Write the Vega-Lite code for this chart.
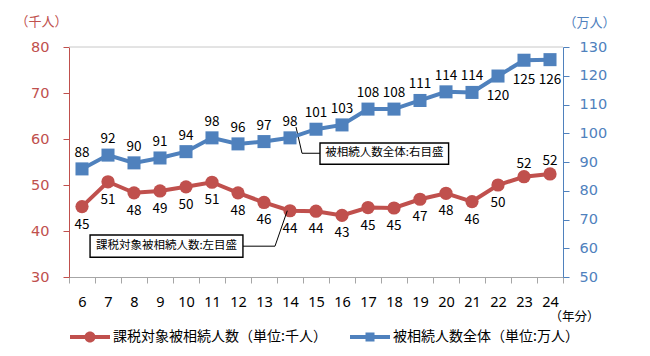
{
  "$schema": "https://vega.github.io/schema/vega-lite/v6.json",
  "width": 494,
  "height": 230,
  "autosize": {"type": "none"},
  "padding": {"left": 69, "top": 47, "right": 87, "bottom": 79},
  "background": "white",
  "config": {
    "font": "Noto Sans CJK JP",
    "view": {"stroke": null},
    "axis": {"grid": false, "labelOverlap": false, "labelFlush": false, "labelBound": false, "tickSize": 6, "titleAngle": 0, "titleAlign": "center", "titleBaseline": "middle", "titleFontSize": 13, "titleFontWeight": "normal"},
    "axisX": {"labelOffset": 13, "tickColor": "#A6A6A6", "domainColor": "#A6A6A6", "labelFont": "Noto Sans", "labelFontSize": 14.5, "labelColor": "black", "labelPadding": 12, "titleX": 505, "titleY": 39.5, "titleFontSize": 12.5, "titleColor": "black"},
    "axisLeft": {"tickColor": "#C0504D", "domainColor": "#C0504D", "labelColor": "#C0504D", "labelFont": "DejaVu Sans", "labelFontSize": 14.5, "labelPadding": 14, "titleColor": "#C0504D", "titleX": -28, "titleY": -26},
    "axisRight": {"tickColor": "#4F81BD", "domainColor": "#4F81BD", "labelColor": "#4F81BD", "labelFont": "DejaVu Sans", "labelFontSize": 14.5, "labelPadding": 10, "titleColor": "#4F81BD", "titleX": 26, "titleY": -25}
  },
  "datasets": {
    "main": [
      {"year": 6, "series": "課税対象被相続人数（単位:千人）", "value": 45.3},
      {"year": 7, "series": "課税対象被相続人数（単位:千人）", "value": 50.7},
      {"year": 8, "series": "課税対象被相続人数（単位:千人）", "value": 48.3},
      {"year": 9, "series": "課税対象被相続人数（単位:千人）", "value": 48.7},
      {"year": 10, "series": "課税対象被相続人数（単位:千人）", "value": 49.6},
      {"year": 11, "series": "課税対象被相続人数（単位:千人）", "value": 50.6},
      {"year": 12, "series": "課税対象被相続人数（単位:千人）", "value": 48.3},
      {"year": 13, "series": "課税対象被相続人数（単位:千人）", "value": 46.2},
      {"year": 14, "series": "課税対象被相続人数（単位:千人）", "value": 44.4},
      {"year": 15, "series": "課税対象被相続人数（単位:千人）", "value": 44.3},
      {"year": 16, "series": "課税対象被相続人数（単位:千人）", "value": 43.4},
      {"year": 17, "series": "課税対象被相続人数（単位:千人）", "value": 45.1},
      {"year": 18, "series": "課税対象被相続人数（単位:千人）", "value": 45.0},
      {"year": 19, "series": "課税対象被相続人数（単位:千人）", "value": 46.9},
      {"year": 20, "series": "課税対象被相続人数（単位:千人）", "value": 48.2},
      {"year": 21, "series": "課税対象被相続人数（単位:千人）", "value": 46.4},
      {"year": 22, "series": "課税対象被相続人数（単位:千人）", "value": 50.0},
      {"year": 23, "series": "課税対象被相続人数（単位:千人）", "value": 51.8},
      {"year": 24, "series": "課税対象被相続人数（単位:千人）", "value": 52.4},
      {"year": 6, "series": "被相続人数全体（単位:万人）", "value": 87.6},
      {"year": 7, "series": "被相続人数全体（単位:万人）", "value": 92.4},
      {"year": 8, "series": "被相続人数全体（単位:万人）", "value": 89.7},
      {"year": 9, "series": "被相続人数全体（単位:万人）", "value": 91.4},
      {"year": 10, "series": "被相続人数全体（単位:万人）", "value": 93.6},
      {"year": 11, "series": "被相続人数全体（単位:万人）", "value": 98.4},
      {"year": 12, "series": "被相続人数全体（単位:万人）", "value": 96.3},
      {"year": 13, "series": "被相続人数全体（単位:万人）", "value": 97.1},
      {"year": 14, "series": "被相続人数全体（単位:万人）", "value": 98.4},
      {"year": 15, "series": "被相続人数全体（単位:万人）", "value": 101.4},
      {"year": 16, "series": "被相続人数全体（単位:万人）", "value": 102.9},
      {"year": 17, "series": "被相続人数全体（単位:万人）", "value": 108.4},
      {"year": 18, "series": "被相続人数全体（単位:万人）", "value": 108.4},
      {"year": 19, "series": "被相続人数全体（単位:万人）", "value": 111.4},
      {"year": 20, "series": "被相続人数全体（単位:万人）", "value": 114.4},
      {"year": 21, "series": "被相続人数全体（単位:万人）", "value": 114.2},
      {"year": 22, "series": "被相続人数全体（単位:万人）", "value": 119.9},
      {"year": 23, "series": "被相続人数全体（単位:万人）", "value": 125.4},
      {"year": 24, "series": "被相続人数全体（単位:万人）", "value": 125.6}
    ]
  },
  "data": {"name": "main"},
  "layer": [
    {
      "layer": [
        {
          "transform": [{"filter": "datum.series === '課税対象被相続人数（単位:千人）'"}],
          "mark": {"type": "line", "color": "#C0504D", "strokeWidth": 4},
          "encoding": {
            "x": {"field": "year", "type": "quantitative", "scale": {"domain": [5.5, 24.5], "nice": false, "zero": false},
              "axis": {"values": [5.5, 6.5, 7.5, 8.5, 9.5, 10.5, 11.5, 12.5, 13.5, 14.5, 15.5, 16.5, 17.5, 18.5, 19.5, 20.5, 21.5, 22.5, 23.5, 24.5], "labelExpr": "datum.value < 24 ? toString(datum.value + 0.5) : ''", "title": "（年分）"}},
            "y": {"field": "value", "type": "quantitative", "scale": {"domain": [30, 80], "nice": false, "zero": false},
              "axis": {"orient": "left", "values": [30, 40, 50, 60, 70, 80], "title": "（千人）"}}
          }
        },
        {
          "data": {"values": [{}]},
          "mark": {"type": "rule", "color": "#C8C8C8", "strokeWidth": 1},
          "encoding": {
            "y": {"datum": 80, "type": "quantitative", "scale": {"domain": [30, 80], "nice": false, "zero": false},
              "axis": {"orient": "left", "values": [30, 40, 50, 60, 70, 80], "title": "（千人）"}}
          }
        },
        {
          "transform": [{"filter": "datum.series === '課税対象被相続人数（単位:千人）'"}],
          "mark": {"type": "point", "shape": "circle", "filled": true, "size": 175, "color": "#C0504D", "opacity": 1},
          "encoding": {
            "x": {"field": "year", "type": "quantitative", "scale": {"domain": [5.5, 24.5], "nice": false, "zero": false},
              "axis": {"values": [5.5, 6.5, 7.5, 8.5, 9.5, 10.5, 11.5, 12.5, 13.5, 14.5, 15.5, 16.5, 17.5, 18.5, 19.5, 20.5, 21.5, 22.5, 23.5, 24.5], "labelExpr": "datum.value < 24 ? toString(datum.value + 0.5) : ''", "title": "（年分）"}},
            "y": {"field": "value", "type": "quantitative", "scale": {"domain": [30, 80], "nice": false, "zero": false},
              "axis": {"orient": "left", "values": [30, 40, 50, 60, 70, 80], "title": "（千人）"}}
          }
        },
        {
          "transform": [{"filter": "datum.series === '課税対象被相続人数（単位:千人）' && datum.year < 23"}],
          "mark": {"type": "text", "dy": 18, "fontSize": 13.5, "color": "black", "baseline": "middle", "align": "center"},
          "encoding": {
            "x": {"field": "year", "type": "quantitative", "scale": {"domain": [5.5, 24.5], "nice": false, "zero": false},
              "axis": {"values": [5.5, 6.5, 7.5, 8.5, 9.5, 10.5, 11.5, 12.5, 13.5, 14.5, 15.5, 16.5, 17.5, 18.5, 19.5, 20.5, 21.5, 22.5, 23.5, 24.5], "labelExpr": "datum.value < 24 ? toString(datum.value + 0.5) : ''", "title": "（年分）"}},
            "y": {"field": "value", "type": "quantitative", "scale": {"domain": [30, 80], "nice": false, "zero": false},
              "axis": {"orient": "left", "values": [30, 40, 50, 60, 70, 80], "title": "（千人）"}},
            "text": {"field": "value", "type": "quantitative", "format": ".0f"}
          }
        },
        {
          "transform": [{"filter": "datum.series === '課税対象被相続人数（単位:千人）' && datum.year >= 23"}],
          "mark": {"type": "text", "dy": -13, "fontSize": 13.5, "color": "black", "baseline": "middle", "align": "center"},
          "encoding": {
            "x": {"field": "year", "type": "quantitative", "scale": {"domain": [5.5, 24.5], "nice": false, "zero": false},
              "axis": {"values": [5.5, 6.5, 7.5, 8.5, 9.5, 10.5, 11.5, 12.5, 13.5, 14.5, 15.5, 16.5, 17.5, 18.5, 19.5, 20.5, 21.5, 22.5, 23.5, 24.5], "labelExpr": "datum.value < 24 ? toString(datum.value + 0.5) : ''", "title": "（年分）"}},
            "y": {"field": "value", "type": "quantitative", "scale": {"domain": [30, 80], "nice": false, "zero": false},
              "axis": {"orient": "left", "values": [30, 40, 50, 60, 70, 80], "title": "（千人）"}},
            "text": {"field": "value", "type": "quantitative", "format": ".0f"}
          }
        },
        {
          "mark": {"type": "point", "filled": true, "opacity": 0},
          "encoding": {
            "color": {
              "field": "series", "type": "nominal",
              "scale": {"domain": ["課税対象被相続人数（単位:千人）", "被相続人数全体（単位:万人）"], "range": ["#C0504D", "#4F81BD"]},
              "legend": {
                "orient": "none", "legendX": 1, "legendY": 270, "direction": "horizontal",
                "title": null, "symbolSize": 1600, "symbolStrokeWidth": 0, "symbolOpacity": 1,
                "labelFontSize": 14, "labelFont": "Noto Sans CJK JP", "labelColor": "black",
                "labelOffset": 3, "columnPadding": 23, "labelLimit": 400, "padding": 0
              }
            },
            "shape": {
              "field": "series", "type": "nominal",
              "scale": {
                "domain": ["課税対象被相続人数（単位:千人）", "被相続人数全体（単位:万人）"],
                "range": [
                  "M-1,-0.1H1V0.1H-1Z M0.275,0A0.275,0.275 0 1,1 -0.275,0A0.275,0.275 0 1,1 0.275,0Z",
                  "M-1,-0.1H1V0.1H-1Z M-0.225,-0.225H0.225V0.225H-0.225Z"
                ]
              },
              "legend": {
                "orient": "none", "legendX": 1, "legendY": 270, "direction": "horizontal",
                "title": null, "symbolSize": 1600, "symbolStrokeWidth": 0, "symbolOpacity": 1,
                "labelFontSize": 14, "labelFont": "Noto Sans CJK JP", "labelColor": "black",
                "labelOffset": 3, "columnPadding": 23, "labelLimit": 400, "padding": 0
              }
            }
          }
        },
        {
          "data": {"values": [{}]},
          "mark": {"type": "rule", "color": "black", "strokeWidth": 1},
          "encoding": {
            "x": {"datum": 13.896, "type": "quantitative", "scale": {"domain": [5.5, 24.5], "nice": false, "zero": false},
              "axis": {"values": [5.5, 6.5, 7.5, 8.5, 9.5, 10.5, 11.5, 12.5, 13.5, 14.5, 15.5, 16.5, 17.5, 18.5, 19.5, 20.5, 21.5, 22.5, 23.5, 24.5], "labelExpr": "datum.value < 24 ? toString(datum.value + 0.5) : ''", "title": "（年分）"}},
            "x2": {"datum": 13.423},
            "y": {"datum": 44.41, "type": "quantitative", "scale": {"domain": [30, 80], "nice": false, "zero": false},
              "axis": {"orient": "left", "values": [30, 40, 50, 60, 70, 80], "title": "（千人）"}},
            "y2": {"datum": 36.7}
          }
        },
        {
          "data": {"values": [{}]},
          "mark": {"type": "rule", "color": "black", "strokeWidth": 1},
          "encoding": {
            "x": {"datum": 13.423, "type": "quantitative", "scale": {"domain": [5.5, 24.5], "nice": false, "zero": false},
              "axis": {"values": [5.5, 6.5, 7.5, 8.5, 9.5, 10.5, 11.5, 12.5, 13.5, 14.5, 15.5, 16.5, 17.5, 18.5, 19.5, 20.5, 21.5, 22.5, 23.5, 24.5], "labelExpr": "datum.value < 24 ? toString(datum.value + 0.5) : ''", "title": "（年分）"}},
            "x2": {"datum": 12.19},
            "y": {"datum": 36.7, "type": "quantitative", "scale": {"domain": [30, 80], "nice": false, "zero": false},
              "axis": {"orient": "left", "values": [30, 40, 50, 60, 70, 80], "title": "（千人）"}},
            "y2": {"datum": 36.7}
          }
        },
        {
          "data": {"values": [{}]},
          "mark": {"type": "rule", "color": "black", "strokeWidth": 1},
          "encoding": {
            "x": {"datum": 14.231, "type": "quantitative", "scale": {"domain": [5.5, 24.5], "nice": false, "zero": false},
              "axis": {"values": [5.5, 6.5, 7.5, 8.5, 9.5, 10.5, 11.5, 12.5, 13.5, 14.5, 15.5, 16.5, 17.5, 18.5, 19.5, 20.5, 21.5, 22.5, 23.5, 24.5], "labelExpr": "datum.value < 24 ? toString(datum.value + 0.5) : ''", "title": "（年分）"}},
            "x2": {"datum": 14.462},
            "y": {"datum": 62.6, "type": "quantitative", "scale": {"domain": [30, 80], "nice": false, "zero": false},
              "axis": {"orient": "left", "values": [30, 40, 50, 60, 70, 80], "title": "（千人）"}},
            "y2": {"datum": 56.9}
          }
        },
        {
          "data": {"values": [{}]},
          "mark": {"type": "rule", "color": "black", "strokeWidth": 1},
          "encoding": {
            "x": {"datum": 14.462, "type": "quantitative", "scale": {"domain": [5.5, 24.5], "nice": false, "zero": false},
              "axis": {"values": [5.5, 6.5, 7.5, 8.5, 9.5, 10.5, 11.5, 12.5, 13.5, 14.5, 15.5, 16.5, 17.5, 18.5, 19.5, 20.5, 21.5, 22.5, 23.5, 24.5], "labelExpr": "datum.value < 24 ? toString(datum.value + 0.5) : ''", "title": "（年分）"}},
            "x2": {"datum": 15.154},
            "y": {"datum": 56.9, "type": "quantitative", "scale": {"domain": [30, 80], "nice": false, "zero": false},
              "axis": {"orient": "left", "values": [30, 40, 50, 60, 70, 80], "title": "（千人）"}},
            "y2": {"datum": 56.9}
          }
        },
        {
          "data": {"values": [{}]},
          "mark": {"type": "rect", "fill": "white", "stroke": "black", "strokeWidth": 1.4},
          "encoding": {
            "x": {"datum": 6.31, "type": "quantitative", "scale": {"domain": [5.5, 24.5], "nice": false, "zero": false},
              "axis": {"values": [5.5, 6.5, 7.5, 8.5, 9.5, 10.5, 11.5, 12.5, 13.5, 14.5, 15.5, 16.5, 17.5, 18.5, 19.5, 20.5, 21.5, 22.5, 23.5, 24.5], "labelExpr": "datum.value < 24 ? toString(datum.value + 0.5) : ''", "title": "（年分）"}},
            "x2": {"datum": 12.19},
            "y": {"datum": 39.13, "type": "quantitative", "scale": {"domain": [30, 80], "nice": false, "zero": false},
              "axis": {"orient": "left", "values": [30, 40, 50, 60, 70, 80], "title": "（千人）"}},
            "y2": {"datum": 34.28}
          }
        },
        {
          "data": {"values": [{}]},
          "mark": {"type": "text", "fontSize": 11.5, "color": "black", "align": "center", "baseline": "middle"},
          "encoding": {
            "x": {"datum": 9.25, "type": "quantitative", "scale": {"domain": [5.5, 24.5], "nice": false, "zero": false},
              "axis": {"values": [5.5, 6.5, 7.5, 8.5, 9.5, 10.5, 11.5, 12.5, 13.5, 14.5, 15.5, 16.5, 17.5, 18.5, 19.5, 20.5, 21.5, 22.5, 23.5, 24.5], "labelExpr": "datum.value < 24 ? toString(datum.value + 0.5) : ''", "title": "（年分）"}},
            "y": {"datum": 36.7, "type": "quantitative", "scale": {"domain": [30, 80], "nice": false, "zero": false},
              "axis": {"orient": "left", "values": [30, 40, 50, 60, 70, 80], "title": "（千人）"}},
            "text": {"value": "課税対象被相続人数:左目盛"}
          }
        },
        {
          "data": {"values": [{}]},
          "mark": {"type": "rect", "fill": "white", "stroke": "black", "strokeWidth": 1.4},
          "encoding": {
            "x": {"datum": 15.154, "type": "quantitative", "scale": {"domain": [5.5, 24.5], "nice": false, "zero": false},
              "axis": {"values": [5.5, 6.5, 7.5, 8.5, 9.5, 10.5, 11.5, 12.5, 13.5, 14.5, 15.5, 16.5, 17.5, 18.5, 19.5, 20.5, 21.5, 22.5, 23.5, 24.5], "labelExpr": "datum.value < 24 ? toString(datum.value + 0.5) : ''", "title": "（年分）"}},
            "x2": {"datum": 20.1},
            "y": {"datum": 59.13, "type": "quantitative", "scale": {"domain": [30, 80], "nice": false, "zero": false},
              "axis": {"orient": "left", "values": [30, 40, 50, 60, 70, 80], "title": "（千人）"}},
            "y2": {"datum": 54.5}
          }
        },
        {
          "data": {"values": [{}]},
          "mark": {"type": "text", "fontSize": 11.5, "color": "black", "align": "center", "baseline": "middle"},
          "encoding": {
            "x": {"datum": 17.63, "type": "quantitative", "scale": {"domain": [5.5, 24.5], "nice": false, "zero": false},
              "axis": {"values": [5.5, 6.5, 7.5, 8.5, 9.5, 10.5, 11.5, 12.5, 13.5, 14.5, 15.5, 16.5, 17.5, 18.5, 19.5, 20.5, 21.5, 22.5, 23.5, 24.5], "labelExpr": "datum.value < 24 ? toString(datum.value + 0.5) : ''", "title": "（年分）"}},
            "y": {"datum": 56.85, "type": "quantitative", "scale": {"domain": [30, 80], "nice": false, "zero": false},
              "axis": {"orient": "left", "values": [30, 40, 50, 60, 70, 80], "title": "（千人）"}},
            "text": {"value": "被相続人数全体:右目盛"}
          }
        }
      ]
    },
    {
      "layer": [
        {
          "transform": [{"filter": "datum.series === '被相続人数全体（単位:万人）'"}],
          "mark": {"type": "line", "color": "#4F81BD", "strokeWidth": 4},
          "encoding": {
            "x": {"field": "year", "type": "quantitative", "scale": {"domain": [5.5, 24.5], "nice": false, "zero": false},
              "axis": {"values": [5.5, 6.5, 7.5, 8.5, 9.5, 10.5, 11.5, 12.5, 13.5, 14.5, 15.5, 16.5, 17.5, 18.5, 19.5, 20.5, 21.5, 22.5, 23.5, 24.5], "labelExpr": "datum.value < 24 ? toString(datum.value + 0.5) : ''", "title": "（年分）"}},
            "y": {"field": "value", "type": "quantitative", "scale": {"domain": [50, 130], "nice": false, "zero": false},
              "axis": {"orient": "right", "values": [50, 60, 70, 80, 90, 100, 110, 120, 130], "title": "（万人）"}}
          }
        },
        {
          "transform": [{"filter": "datum.series === '被相続人数全体（単位:万人）'"}],
          "mark": {"type": "point", "shape": "square", "filled": true, "size": 170, "color": "#4F81BD", "opacity": 1},
          "encoding": {
            "x": {"field": "year", "type": "quantitative", "scale": {"domain": [5.5, 24.5], "nice": false, "zero": false},
              "axis": {"values": [5.5, 6.5, 7.5, 8.5, 9.5, 10.5, 11.5, 12.5, 13.5, 14.5, 15.5, 16.5, 17.5, 18.5, 19.5, 20.5, 21.5, 22.5, 23.5, 24.5], "labelExpr": "datum.value < 24 ? toString(datum.value + 0.5) : ''", "title": "（年分）"}},
            "y": {"field": "value", "type": "quantitative", "scale": {"domain": [50, 130], "nice": false, "zero": false},
              "axis": {"orient": "right", "values": [50, 60, 70, 80, 90, 100, 110, 120, 130], "title": "（万人）"}}
          }
        },
        {
          "transform": [{"filter": "datum.series === '被相続人数全体（単位:万人）' && datum.year < 22"}],
          "mark": {"type": "text", "dy": -16, "fontSize": 13.5, "color": "black", "baseline": "middle", "align": "center"},
          "encoding": {
            "x": {"field": "year", "type": "quantitative", "scale": {"domain": [5.5, 24.5], "nice": false, "zero": false},
              "axis": {"values": [5.5, 6.5, 7.5, 8.5, 9.5, 10.5, 11.5, 12.5, 13.5, 14.5, 15.5, 16.5, 17.5, 18.5, 19.5, 20.5, 21.5, 22.5, 23.5, 24.5], "labelExpr": "datum.value < 24 ? toString(datum.value + 0.5) : ''", "title": "（年分）"}},
            "y": {"field": "value", "type": "quantitative", "scale": {"domain": [50, 130], "nice": false, "zero": false},
              "axis": {"orient": "right", "values": [50, 60, 70, 80, 90, 100, 110, 120, 130], "title": "（万人）"}},
            "text": {"field": "value", "type": "quantitative", "format": ".0f"}
          }
        },
        {
          "transform": [{"filter": "datum.series === '被相続人数全体（単位:万人）' && datum.year >= 22"}],
          "mark": {"type": "text", "dy": 20, "fontSize": 13.5, "color": "black", "baseline": "middle", "align": "center"},
          "encoding": {
            "x": {"field": "year", "type": "quantitative", "scale": {"domain": [5.5, 24.5], "nice": false, "zero": false},
              "axis": {"values": [5.5, 6.5, 7.5, 8.5, 9.5, 10.5, 11.5, 12.5, 13.5, 14.5, 15.5, 16.5, 17.5, 18.5, 19.5, 20.5, 21.5, 22.5, 23.5, 24.5], "labelExpr": "datum.value < 24 ? toString(datum.value + 0.5) : ''", "title": "（年分）"}},
            "y": {"field": "value", "type": "quantitative", "scale": {"domain": [50, 130], "nice": false, "zero": false},
              "axis": {"orient": "right", "values": [50, 60, 70, 80, 90, 100, 110, 120, 130], "title": "（万人）"}},
            "text": {"field": "value", "type": "quantitative", "format": ".0f"}
          }
        }
      ]
    }
  ],
  "resolve": {"scale": {"y": "independent"}}
}
